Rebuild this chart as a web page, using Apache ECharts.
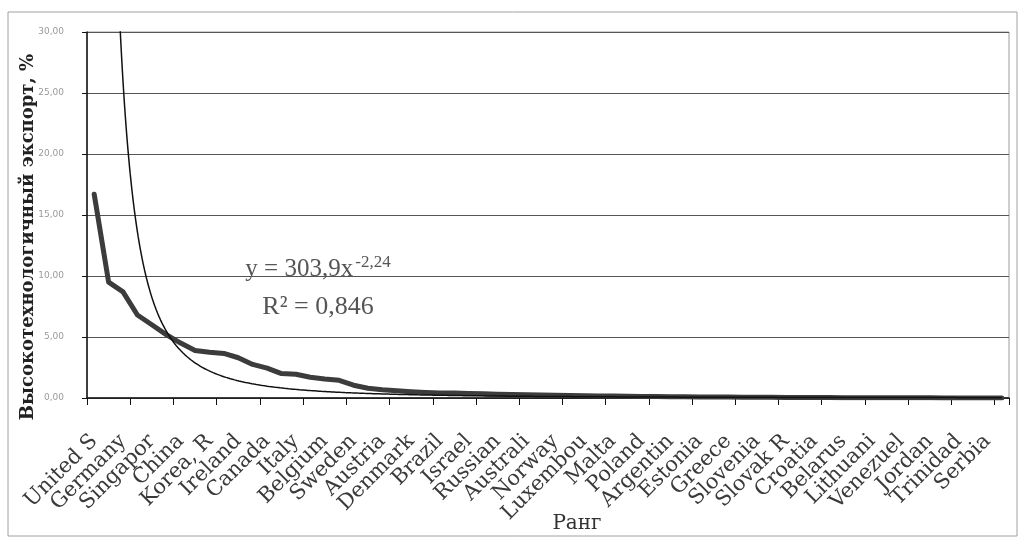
<!DOCTYPE html>
<html>
<head>
<meta charset="utf-8">
<script src="https://cdn.jsdelivr.net/npm/echarts@6/dist/echarts.min.js"></script>
<style>
html,body{margin:0;padding:0;background:#fff;}
#chart{width:1025px;height:542px;}
</style>
</head>
<body>
<div id="chart"></div>
<script>
// Ranked categories (every second one is labelled in the reference)
const categories = [
  'United S','Japan','Germany','France','Singapor','United K','China','Netherla',
  'Korea, R','Malaysia','Ireland','Switzerl','Canada','Mexico','Italy','Thailand',
  'Belgium','Finland','Sweden','Philippi','Austria','Spain','Denmark','Hungary',
  'Brazil','India','Israel','Czech R','Russian','Indonesi','Australi','Costa Ri',
  'Norway','Portugal','Luxembou','South Af','Malta','Turkey','Poland','Ukraine',
  'Argentin','Romania','Estonia','Chile','Greece','New Zeal','Slovenia','Colombia',
  'Slovak R','Iceland','Croatia','Latvia','Belarus','Bulgaria','Lithuani','Uruguay',
  'Venezuel','Peru','Jordan','Cyprus','Trinidad','Panama','Serbia','Moldova'
];
// High-tech export share, %
const exportShare = [
  16.7, 9.5, 8.7, 6.8, 6.0, 5.2, 4.5, 3.9,
  3.75, 3.65, 3.3, 2.75, 2.45, 2.0, 1.95, 1.7,
  1.55, 1.45, 1.05, 0.8, 0.68, 0.6, 0.52, 0.46,
  0.42, 0.4, 0.37, 0.34, 0.31, 0.28, 0.26, 0.24,
  0.22, 0.2, 0.19, 0.17, 0.16, 0.15, 0.13, 0.12,
  0.11, 0.1, 0.09, 0.08, 0.08, 0.07, 0.06, 0.06,
  0.05, 0.05, 0.04, 0.04, 0.03, 0.03, 0.03, 0.02,
  0.02, 0.02, 0.02, 0.01, 0.01, 0.01, 0.01, 0.01
];
const yTickLabels = ['0,00','5,00','10,00','15,00','20,00','25,00','30,00'];
// Power trendline shown on the chart: y = 303,9 x^-2,24
const trendCoef = 303.9;
const trendExp = -2.24;
const trendPoints = [];
for (let k = 1; k <= categories.length + 0.001; k += 0.05) {
  trendPoints.push([k, trendCoef * Math.pow(k, trendExp)]);
}

const chart = echarts.init(document.getElementById('chart'), null, {renderer: 'canvas'});
const labelFont = '"DejaVu Serif", serif';

chart.setOption({
  backgroundColor: '#fff',
  animation: false,
  grid: {left: 87, top: 32, width: 922, height: 366, show: true,
    borderColor: '#9a9a9a', borderWidth: 1, backgroundColor: 'transparent'},
  xAxis: [
    {
      type: 'category', data: categories, boundaryGap: true,
      axisLine: {show: true, lineStyle: {color: '#111', width: 1.5}},
      axisTick: {show: true, interval: 2, length: 7, lineStyle: {color: '#111'}},
      axisLabel: {show: true, interval: 0, rotate: 45, margin: 40,
        formatter: (v, i) => (i % 2 === 0 ? v : ''),
        fontFamily: labelFont, fontSize: 21, color: '#3a3a3a'},
      splitLine: {show: false}
    },
    {
      type: 'value', min: 0.5, max: categories.length + 0.5, show: false
    }
  ],
  yAxis: {
    type: 'value', min: 0, max: 30, interval: 5,
    axisLine: {show: true, lineStyle: {color: '#111', width: 1.5}},
    axisTick: {show: true, length: 5, lineStyle: {color: '#111'}},
    axisLabel: {margin: 23, fontFamily: '"DejaVu Sans", sans-serif', fontSize: 9, color: '#9a9a9a',
      formatter: (v) => yTickLabels[Math.round(v / 5)]},
    splitLine: {show: true, lineStyle: {color: '#555', width: 1}}
  },
  series: [
    {
      type: 'line', xAxisIndex: 0, yAxisIndex: 0, data: exportShare,
      symbol: 'none', smooth: false,
      lineStyle: {color: '#3c3c3c', width: 5, join: 'round', cap: 'round'},
      z: 2
    },
    {
      type: 'line', xAxisIndex: 1, yAxisIndex: 0, data: trendPoints,
      symbol: 'none', clip: true,
      lineStyle: {color: '#111', width: 1.5},
      z: 3
    }
  ],
  graphic: [
    {type: 'rect', shape: {x: 8, y: 12, width: 1009, height: 524},
      style: {fill: 'none', stroke: '#a0a0a0', lineWidth: 1}, silent: true, z: -1},
    {type: 'text', x: 28, y: 237, rotation: Math.PI / 2,
      style: {text: 'Высокотехнологичный экспорт, %', fontFamily: labelFont, fontSize: 18,
        fontWeight: 'bold', fill: '#222', align: 'center', verticalAlign: 'middle'}},
    {type: 'text', x: 577, y: 524,
      style: {text: 'Ранг', fontFamily: labelFont, fontSize: 20, fill: '#333',
        align: 'center', verticalAlign: 'middle'}},
    {type: 'text', x: 318, y: 268,
      style: {text: '{a|y = 303,9x}{s|-2,24}', align: 'center', verticalAlign: 'middle',
        rich: {
          a: {fontFamily: '"Liberation Serif", serif', fontSize: 25, fill: '#555', color: '#555', lineHeight: 28, verticalAlign: 'bottom'},
          s: {fontFamily: '"Liberation Serif", serif', fontSize: 17, fill: '#555', color: '#555', lineHeight: 28, verticalAlign: 'top', padding: [0, 0, 12, 2]}
        }}},
    {type: 'text', x: 318, y: 307,
      style: {text: 'R² = 0,846', fontFamily: '"Liberation Serif", serif', fontSize: 26, fill: '#555',
        align: 'center', verticalAlign: 'middle'}}
  ]
});
</script>
</body>
</html>
